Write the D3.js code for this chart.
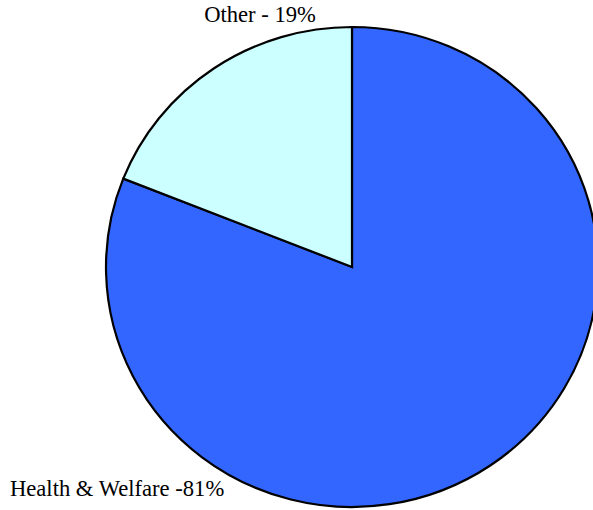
<!DOCTYPE html>
<html>
<head>
<meta charset="utf-8">
<script src="https://cdn.jsdelivr.net/npm/d3@7"></script>
<style>
  body { margin: 0; background: #fff; overflow: hidden; }
  svg text { font-family: "Liberation Serif", "Times New Roman", serif; fill: #000; }
</style>
</head>
<body>
<div id="chart"></div>
<script>
// slice data, in drawing order (clockwise from 12 o'clock)
const categories = ["Health & Welfare", "Other"];
const shares = [81, 19];
const labels = ["Health & Welfare -81%", "Other - 19%"];
const colors = ["#3366ff", "#ccffff"];

const width = 593, height = 510;
const cx = 352, cy = 267;
const rx = 246, ry = 240; // the pie is drawn slightly wider than tall

const svg = d3
  .select("#chart")
  .append("svg")
  .attr("width", width)
  .attr("height", height)
  .style("display", "block");

const slices = categories.map((c, i) => ({ name: c, value: shares[i], label: labels[i], color: colors[i] }));

const pie = d3.pie().sort(null).value((d) => d.value);
const arc = d3.arc().innerRadius(0).outerRadius(ry);

const g = svg
  .append("g")
  .attr("transform", "translate(" + cx + "," + cy + ") scale(" + rx / ry + ",1)");

g.selectAll("path")
  .data(pie(slices))
  .enter()
  .append("path")
  .attr("d", arc)
  .attr("fill", (d) => d.data.color)
  .attr("stroke", "#000")
  .attr("stroke-width", 2.2)
  .attr("vector-effect", "non-scaling-stroke")
  .attr("stroke-linejoin", "miter");

// labels sit outside the pie, Excel style
const labelPos = {
  "Health & Welfare": { x: 10, y: 496, anchor: "start" },
  Other: { x: 260, y: 22, anchor: "middle" },
};

svg
  .selectAll("text.label")
  .data(slices)
  .enter()
  .append("text")
  .attr("class", "label")
  .attr("x", (d) => labelPos[d.name].x)
  .attr("y", (d) => labelPos[d.name].y)
  .attr("text-anchor", (d) => labelPos[d.name].anchor)
  .style("font-size", "22.6px")
  .text((d) => d.label);
</script>
</body>
</html>
